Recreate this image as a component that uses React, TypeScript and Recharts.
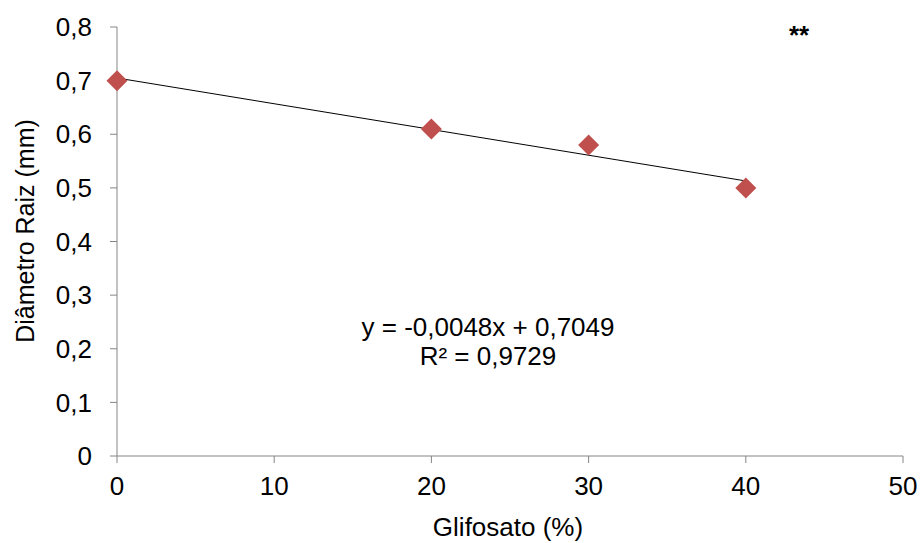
import { Scatter, ScatterChart, XAxis, YAxis } from "recharts";

const glifosato = [0, 20, 30, 40];
const diametro = [0.7, 0.61, 0.58, 0.5];

const xTicks = [0, 10, 20, 30, 40, 50];
const yTicks = [0, 0.1, 0.2, 0.3, 0.4, 0.5, 0.6, 0.7, 0.8];

// linear trendline shown on the chart
const slope = -0.0048;
const intercept = 0.7049;
const trendRange = [0, 40];

const points = glifosato.map((x, i) => ({ x, y: diametro[i] }));
const trend = trendRange.map((x) => ({ x, y: intercept + slope * x }));

const font = "'Liberation Sans', Arial, sans-serif";
const axisColor = "#868686";

function Diamond(props: any) {
  const { cx, cy } = props;
  const r = 10.5;
  return (
    <polygon
      points={`${cx},${cy - r} ${cx + r},${cy} ${cx},${cy + r} ${cx - r},${cy}`}
      fill="#c0504d"
    />
  );
}

const fmt = (v: number) => (v === 0 ? "0" : v.toFixed(1).replace(".", ","));

export default function App() {
  return (
    <div style={{ position: "absolute", left: 0, top: 0, width: 922, height: 543, fontFamily: font, background: "#fff" }}>
      <ScatterChart width={922} height={543} margin={{ top: 27, right: 19, bottom: 27, left: 57 }}>
        <XAxis
          type="number"
          dataKey="x"
          domain={[0, 50]}
          ticks={xTicks}
          interval={0}
          height={60}
          tickSize={7}
          tickMargin={14}
          axisLine={{ stroke: axisColor }}
          tickLine={{ stroke: axisColor }}
          tick={{ fontSize: 26, fill: "#000", fontFamily: font }}
        />
        <YAxis
          type="number"
          dataKey="y"
          domain={[0, 0.8]}
          ticks={yTicks}
          interval={0}
          width={60}
          tickSize={7}
          tickMargin={18}
          tickFormatter={fmt}
          axisLine={{ stroke: axisColor }}
          tickLine={{ stroke: axisColor }}
          tick={{ fontSize: 26, fill: "#000", fontFamily: font }}
        />
        <Scatter
          data={trend}
          line={{ stroke: "#000", strokeWidth: 1 }}
          shape={() => <g />}
          isAnimationActive={false}
        />
        <Scatter data={points} shape={Diamond} isAnimationActive={false} />
      </ScatterChart>

      <div style={{ position: "absolute", left: 0, top: 0, width: 922, height: 543, pointerEvents: "none", color: "#000" }}>
        <div
          style={{
            position: "absolute",
            left: 25,
            top: 231,
            transform: "translate(-50%, -50%) rotate(-90deg)",
            whiteSpace: "nowrap",
            fontSize: 25,
          }}
        >
          Diâmetro Raiz (mm)
        </div>
        <div
          style={{
            position: "absolute",
            left: 508,
            top: 527,
            transform: "translate(-50%, -50%)",
            whiteSpace: "nowrap",
            fontSize: 26,
          }}
        >
          Glifosato (%)
        </div>
        <div
          style={{
            position: "absolute",
            left: 488,
            top: 342,
            transform: "translate(-50%, -50%)",
            whiteSpace: "nowrap",
            fontSize: 26,
            textAlign: "center",
            lineHeight: "29px",
          }}
        >
          y = -0,0048x + 0,7049
          <br />
          R² = 0,9729
        </div>
        <div style={{ position: "absolute", left: 789, top: 20, fontSize: 26, fontWeight: "bold", lineHeight: "30px" }}>**</div>
      </div>
    </div>
  );
}
